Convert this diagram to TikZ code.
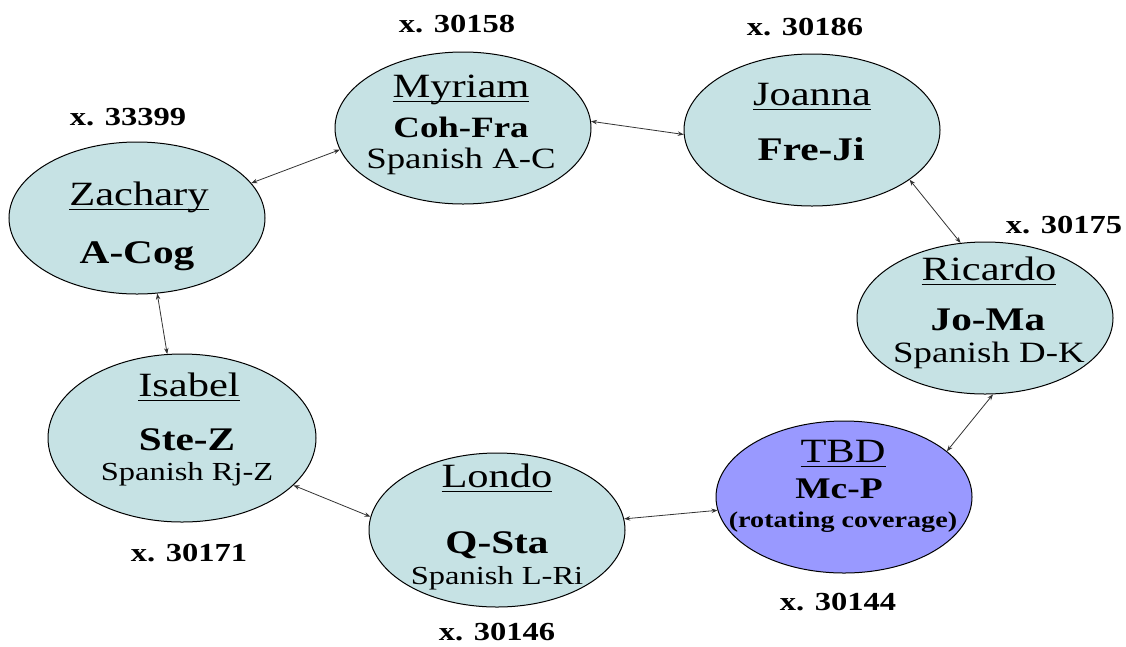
\documentclass[tikz,border=0pt]{standalone}
\usepackage{fontspec}
\setmainfont{Liberation Serif}
\usetikzlibrary{shapes.geometric,arrows.meta}
\definecolor{cellfill}{HTML}{C6E2E4}
\definecolor{tbdfill}{HTML}{9999FF}
\newcommand\sx[1]{\scalebox{1.25}[1]{#1}}
\newcommand\ulname[1]{\setbox0\hbox{#1}\rlap{\rule[-5pt]{\wd0}{1.3pt}}\box0}
\tikzset{
 bub/.style={ellipse, draw=black, line width=1pt, fill=cellfill, inner sep=0pt, minimum width=256pt, minimum height=152pt},
 nm/.style={anchor=base, inner sep=0pt, font=\fontsize{34}{40}\selectfont},
 cd/.style={anchor=base, inner sep=0pt, font=\fontsize{33}{40}\selectfont\bfseries},
 cds/.style={anchor=base, inner sep=0pt, font=\fontsize{29.5}{36}\selectfont\bfseries},
 sp/.style={anchor=base, inner sep=0pt, font=\fontsize{29.5}{36}\selectfont},
 sps/.style={anchor=base, inner sep=0pt, font=\fontsize{26}{32}\selectfont},
 ext/.style={anchor=base, inner sep=0pt, font=\fontsize{26}{30}\selectfont\bfseries},
 link/.style={<->, >={Stealth[length=6pt,width=4.5pt]}, line width=0.8pt, draw=black!80},
}
\begin{document}
\begin{tikzpicture}[x=1pt,y=-1pt]
\useasboundingbox (0,0) rectangle (1126,646);
% bubbles
\node[bub] (myriam) at (463,128) {};
\node[bub] (joanna) at (812,130) {};
\node[bub] (zachary) at (137,218) {};
\node[bub] (ricardo) at (985,318) {};
\node[bub, minimum width=268pt, minimum height=168pt] (isabel) at (182,438) {};
\node[bub, minimum height=154pt] (londo) at (497,530) {};
\node[bub, fill=tbdfill] (tbd) at (844,497) {};
% Myriam
\node[nm] (myriamname) at (461,97) {\sx{\ulname{Myriam}}};
\node[cds] (myriamcode) at (461,137) {\sx{Coh-Fra}};
\node[sp] (myriamsp) at (461,168) {\sx{Spanish A-C}};
\node[ext] (myriamx) at (457,32) {\sx{x. 30158}};
% Joanna
\node[nm] (joannaname) at (812,105) {\sx{\ulname{Joanna}}};
\node[cd] (joannacode) at (811,160) {\sx{Fre-Ji}};
\node[ext] (joannax) at (805,35) {\sx{x. 30186}};
% Zachary
\node[nm] (zacharyname) at (139,205) {\sx{\ulname{Zachary}}};
\node[cd] (zacharycode) at (137,263) {\sx{A-Cog}};
\node[ext] (zacharyx) at (128,125) {\sx{x. 33399}};
% Ricardo
\node[nm] (ricardoname) at (989,280) {\sx{\ulname{Ricardo}}};
\node[cd] (ricardocode) at (988,330) {\sx{Jo-Ma}};
\node[sp] (ricardosp) at (989,362) {\sx{Spanish D-K}};
\node[ext] (ricardox) at (1064,233) {\sx{x. 30175}};
% Isabel
\node[nm] (isabelname) at (189,396) {\sx{\ulname{Isabel}}};
\node[cd] (isabelcode) at (187,450) {\sx{Ste-Z}};
\node[sps] (isabelsp) at (187,480) {\sx{Spanish Rj-Z}};
\node[ext] (isabelx) at (189,561) {\sx{x. 30171}};
% Londo
\node[nm] (londoname) at (497,487) {\sx{\ulname{Londo}}};
\node[cd] (londocode) at (497,553) {\sx{Q-Sta}};
\node[sps] (londosp) at (497,584) {\sx{Spanish L-Ri}};
\node[ext] (londox) at (497,640) {\sx{x. 30146}};
% TBD
\node[nm] (tbdname) at (843,462) {\sx{\ulname{TBD}}};
\node[cds, font=\fontsize{30}{36}\selectfont\bfseries] (tbdcode) at (839,498) {\sx{Mc-P}};
\node[cds, font=\fontsize{22.5}{28}\selectfont\bfseries] (tbdnote) at (843,527) {\sx{(rotating coverage)}};
\node[ext] (tbdx) at (838,610) {\sx{x. 30144}};
% connectors
\draw[link] (myriam.3) -- (joanna.182);
\draw[link] (myriam.190) -- (zachary.17);
\draw[link] (zachary.-75) -- (isabel.100);
\draw[link] (isabel.-23) -- (londo.174);
\draw[link] (londo.5) -- (tbd.186);
\draw[link] (tbd.24) -- (ricardo.-84);
\draw[link] (joanna.-27) -- (ricardo.108);
\end{tikzpicture}
\end{document}
